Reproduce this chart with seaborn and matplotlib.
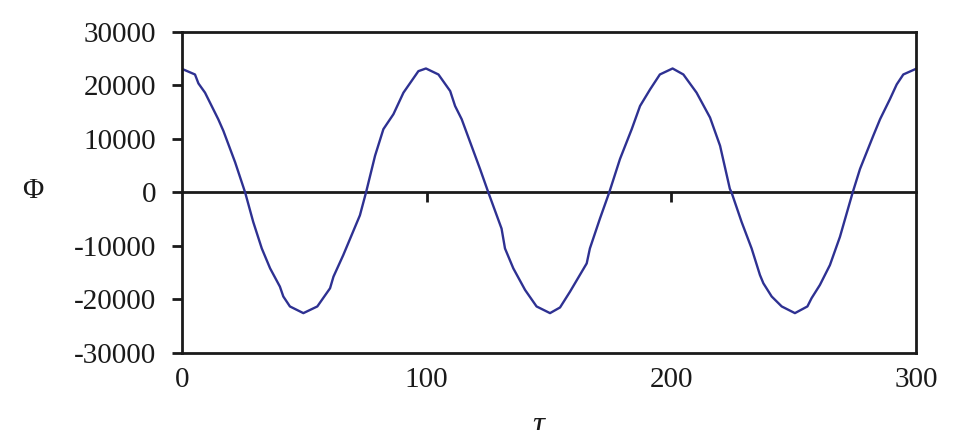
import matplotlib
matplotlib.use("Agg")
import matplotlib.pyplot as plt
import seaborn as sns
import pandas as pd

# Data
tau = [0, 5.3, 6.7, 9.4, 14.8, 16.9, 21.7, 25.8, 29.1, 32.6, 36.0, 40.0, 41.4, 44.1,
       49.6, 55.3, 60.5, 61.9, 65.9, 72.7, 75.2, 78.9, 82.3, 86.4, 90.5, 96.6, 99.7,
       104.8, 109.6, 111.6, 114.3, 121.8, 125.2, 130.6, 132.0, 135.4, 140.2, 144.9,
       150.4, 154.5, 158.6, 165.4, 166.7, 170.8, 174.6, 179.0, 183.8, 187.2, 191.3,
       195.3, 200.5, 204.9, 210.3, 215.8, 219.9, 223.9, 224.6, 228.7, 232.8, 236.2,
       237.6, 241.0, 245.1, 250.5, 255.6, 257.3, 260.7, 264.8, 268.9, 274.1, 277.1,
       282.5, 285.3, 289.3, 292.1, 294.8, 300]
phi = [23100, 22060, 20390, 18660, 13700, 11520, 5650, 0, -5500, -10460, -14180,
       -17590, -19440, -21300, -22550, -21300, -17900, -15730, -11700, -4270, 0,
       6880, 11840, 14630, 18660, 22680, 23180, 22060, 18960, 16170, 13700, 4400, 0,
       -6750, -10460, -14180, -18210, -21300, -22550, -21490, -18520, -13250, -10460,
       -4890, 0, 6260, 11840, 16170, 19270, 22060, 23180, 22060, 18660, 14010, 8740,
       690, 0, -5500, -10460, -15420, -16970, -19440, -21300, -22550, -21300, -19760,
       -17290, -13570, -8290, 0, 4400, 10590, 13700, 17420, 20200, 22060, 23120]

y_ticks = [-30000, -20000, -10000, 0, 10000, 20000, 30000]
y_tick_labels = ["-30000", "-20000", "-10000", "0", "10000", "20000", "30000"]
x_ticks = [0, 100, 200, 300]
x_tick_labels = ["0", "100", "200", "300"]

sns.set_style("white")
plt.rcParams["font.family"] = ["Liberation Serif", "DejaVu Serif"]
plt.rcParams["axes.unicode_minus"] = False

INK = "#1a1a1a"
LW = 2.0

fig = plt.figure(figsize=(9.56, 4.30), dpi=100)
ax = fig.add_axes([0.1904, 0.1791, 0.7678, 0.7465])

df = pd.DataFrame({"tau": tau, "phi": phi})
sns.lineplot(data=df, x="tau", y="phi", ax=ax, color="#2E3192", linewidth=1.7,
             sort=False, estimator=None)

ax.set_xlim(0, 300)
ax.set_ylim(-30000, 30000)

for s in ax.spines.values():
    s.set_visible(True)
    s.set_color(INK)
    s.set_linewidth(LW)

ax.set_yticks(y_ticks)
ax.set_yticklabels(y_tick_labels, fontsize=21, color=INK)
ax.tick_params(axis="y", direction="out", length=7.5, width=LW, pad=11,
               color=INK, left=True)
ax.set_xticks(x_ticks)
ax.set_xticklabels(x_tick_labels, fontsize=21, color=INK)
ax.tick_params(axis="x", length=0, pad=10, bottom=True)

# zero axis with tick marks at 100 and 200 (pointing down)
sec = ax.secondary_xaxis(0.5)
sec.set_alignment("bottom")
sec.set_xticks([100, 200])
sec.set_xticklabels(["", ""])
sec.tick_params(axis="x", direction="out", length=7, width=LW, color=INK,
                top=False, bottom=True, labeltop=False, labelbottom=False)
for s in sec.spines.values():
    s.set_linewidth(LW)
    s.set_color(INK)

ax.set_ylabel("Φ", rotation=0, fontsize=21, va="center", ha="center", color=INK)
ax.yaxis.set_label_coords(-0.203, 0.505)
ax.set_xlabel("τ", fontsize=24, fontstyle="italic", color=INK, va="top")
ax.xaxis.set_label_coords(0.485, -0.18)

fig.savefig("out.png", dpi=100)
